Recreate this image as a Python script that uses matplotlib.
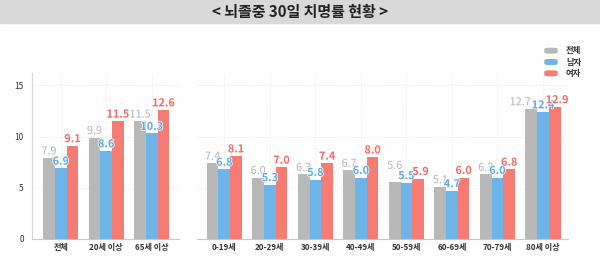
import matplotlib.pyplot as plt
import matplotlib.patheffects as pe
from matplotlib.patches import Rectangle, FancyBboxPatch
import numpy as np

plt.rcParams['font.family'] = ['Noto Sans CJK KR', 'DejaVu Sans']

# left panel: overall
groups = ["전체", "20세 이상", "65세 이상"]
total = [7.9, 9.9, 11.5]
male = [6.9, 8.6, 10.3]
female = [9.1, 11.5, 12.6]

# right panel: by age
ages = ["0-19세", "20-29세", "30-39세", "40-49세", "50-59세", "60-69세", "70-79세", "80세 이상"]
age_total = [7.4, 6.0, 6.3, 6.7, 5.6, 5.1, 6.3, 12.7]
age_male = [6.8, 5.3, 5.8, 6.0, 5.5, 4.7, 6.0, 12.4]
age_female = [8.1, 7.0, 7.4, 8.0, 5.9, 6.0, 6.8, 12.9]

series_names = ["전체", "남자", "여자"]
bar_colors = ["#b8b8b8", "#6db4e8", "#f57b73"]
text_colors = ["#b3b3b3", "#5aaae5", "#f26a61"]


def drawPanel(ax, cats, series, xlim, showY):
    x = np.arange(len(cats))
    w = 0.257
    for c in x:
        ax.axvline(c, color="#ececec", lw=0.6, ls=(0, (1.5, 2)), zorder=0)
    for i, vals in enumerate(series):
        pos = x + (i - 1) * w
        ax.bar(pos, vals, width=w, color=bar_colors[i], zorder=2)
        for j, (p, v) in enumerate(zip(pos, vals)):
            tx, ty = p, v + 0.35
            gap_gray = series[0][j] - series[1][j]
            gap_red = series[2][j] - series[1][j]
            # move crowded labels out of the way
            if i == 0 and gap_gray < 0.2:
                ty = series[1][j] + 1.35
            elif i == 0 and gap_gray < 0.35 and gap_red < 0.6:
                tx = p - w * 0.95
            if i == 2 and gap_red < 0.6:
                tx = p + w * 0.2
            ax.text(tx, ty, f"{v:.1f}", ha="center", va="baseline",
                    color=text_colors[i], fontsize=7.8,
                    fontweight="medium" if i == 0 else "bold", zorder=3,
                    path_effects=[pe.withStroke(linewidth=1.0, foreground="white")])
    ax.set_xlim(xlim)
    ax.set_ylim(0, 16.2)
    ax.set_yticks([0, 5, 10, 15])
    ax.yaxis.grid(True, color="#e4e4e4", lw=0.6, ls=(0, (1.5, 2)), zorder=0)
    ax.set_xticks(x)
    ax.set_xticklabels(cats, fontsize=5.8, color="#333333", fontweight="bold")
    ax.tick_params(axis="x", length=0, pad=3)
    ax.tick_params(axis="y", length=0, pad=6, labelsize=6, labelcolor="#333333")
    for s in ["top", "right"]:
        ax.spines[s].set_visible(False)
    ax.spines["bottom"].set_color("#c8c8c8")
    ax.spines["bottom"].set_linewidth(0.8)
    if showY:
        ax.spines["left"].set_color("#d8d8d8")
        ax.spines["left"].set_linewidth(0.8)
    else:
        ax.spines["left"].set_visible(False)
        ax.set_yticklabels([])
    ax.set_facecolor("none")


def main():
    fig = plt.figure(figsize=(6, 2.58), dpi=100)
    fig.patch.set_facecolor("#fefefe")

    # title bar
    fig.patches.append(Rectangle((0, 1 - 23 / 258), 1, 23 / 258, transform=fig.transFigure,
                                 color="#d9d9d9", zorder=0))
    fig.text(0.5, 1 - 12.5 / 258, "< 뇌졸중 30일 치명률 현황 >", ha="center", va="center",
             fontsize=10.8, fontweight="bold", color="#222222")

    ax1 = fig.add_axes([32 / 600, 19 / 258, 147 / 600, 166 / 258])
    drawPanel(ax1, groups, [total, male, female], (-0.63, 2.6), True)

    ax2 = fig.add_axes([197 / 600, 19 / 258, 371 / 600, 166 / 258])
    drawPanel(ax2, ages, [age_total, age_male, age_female], (-0.6, 7.55), False)

    # legend
    for i, name in enumerate(series_names):
        yc = 1 - (50.7 + i * 11.3) / 258
        fig.patches.append(FancyBboxPatch((545 / 600, yc - 2.3 / 258), 12 / 600, 4.6 / 258,
                                          boxstyle="round,pad=0,rounding_size=0.0075",
                                          transform=fig.transFigure, color=bar_colors[i],
                                          mutation_aspect=258 / 600))
        fig.text(566 / 600, yc, name, ha="left", va="center", fontsize=6,
                 fontweight="bold", color="#333333")

    fig.savefig("out.png", dpi=100, facecolor=fig.get_facecolor())


if __name__ == '__main__':
    main()
